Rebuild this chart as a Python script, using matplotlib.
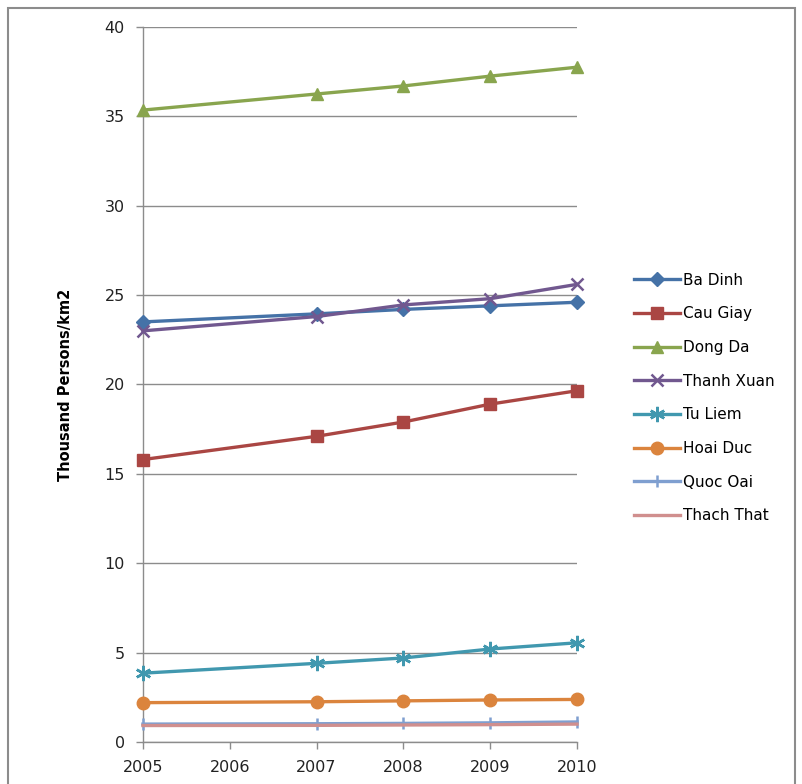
import matplotlib
matplotlib.use("Agg")
import matplotlib.pyplot as plt
from matplotlib.patches import Rectangle

years = [2005, 2007, 2008, 2009, 2010]
tick_years = [2005, 2006, 2007, 2008, 2009, 2010]

ba_dinh    = [23.5, 23.95, 24.2, 24.4, 24.6]
cau_giay   = [15.8, 17.1, 17.9, 18.9, 19.65]
dong_da    = [35.35, 36.25, 36.7, 37.25, 37.75]
thanh_xuan = [23.0, 23.8, 24.45, 24.8, 25.6]
tu_liem    = [3.85, 4.4, 4.7, 5.2, 5.55]
hoai_duc   = [2.2, 2.25, 2.3, 2.35, 2.38]
quoc_oai   = [1.0, 1.02, 1.04, 1.07, 1.12]
thach_that = [0.92, 0.93, 0.95, 0.97, 1.0]

series = [
    ("Ba Dinh", ba_dinh, "#4572A7", "D", 7),
    ("Cau Giay", cau_giay, "#AA4643", "s", 8),
    ("Dong Da", dong_da, "#89A54E", "^", 9),
    ("Thanh Xuan", thanh_xuan, "#71588F", "x", 9),
    ("Tu Liem", tu_liem, "#4198AF", (6, 2, 0), 11),
    ("Hoai Duc", hoai_duc, "#DB843D", "o", 9),
    ("Quoc Oai", quoc_oai, "#7F9FD0", "|", 8),
    ("Thach That", thach_that, "#D08F8E", None, 0),
]

fig = plt.figure(figsize=(8.03, 7.84), dpi=100)
ax = fig.add_axes([0.178, 0.0536, 0.5406, 0.912])

for name, vals, color, marker, ms in series:
    mew = 1.8 if marker in ("x", "|") or isinstance(marker, tuple) else 1
    ax.plot(years, vals, color=color, lw=2.4, marker=marker, ms=ms,
            mec=color, mfc=color, mew=mew, label=name, clip_on=False, zorder=3)

ax.set_xlim(2005, 2010)
ax.set_ylim(0, 40)
ax.set_xticks(tick_years)
ax.set_xticklabels([str(y) for y in tick_years])
ax.set_yticks(range(0, 41, 5))
ax.yaxis.grid(True, color="#8c8c8c", lw=1)
ax.set_axisbelow(True)
for s in ("top", "right"):
    ax.spines[s].set_visible(False)
for s in ("left", "bottom"):
    ax.spines[s].set_color("#8c8c8c")
    ax.spines[s].set_linewidth(1)
ax.tick_params(axis="both", colors="#8c8c8c", labelcolor="#222222",
               labelsize=11.5, length=5, width=1)
ax.tick_params(axis="y", pad=8)
ax.tick_params(axis="x", pad=8)

ax.set_ylabel("Thousand Persons/km2", fontsize=10.5, fontweight="bold",
              family=["Liberation Sans Narrow", "DejaVu Sans"])
ax.yaxis.set_label_coords(-0.16, 0.5)

leg = fig.legend(loc="upper left", bbox_to_anchor=(0.782, 0.66),
                 frameon=False, fontsize=11, handlelength=3.0,
                 labelspacing=1.22, handletextpad=0.2, borderaxespad=0)

fig.patches.append(Rectangle((0.01, -0.01), 0.98, 1.0, transform=fig.transFigure,
                             fill=False, edgecolor="#8c8c8c", lw=1.5))

fig.savefig("out.png", dpi=100)
